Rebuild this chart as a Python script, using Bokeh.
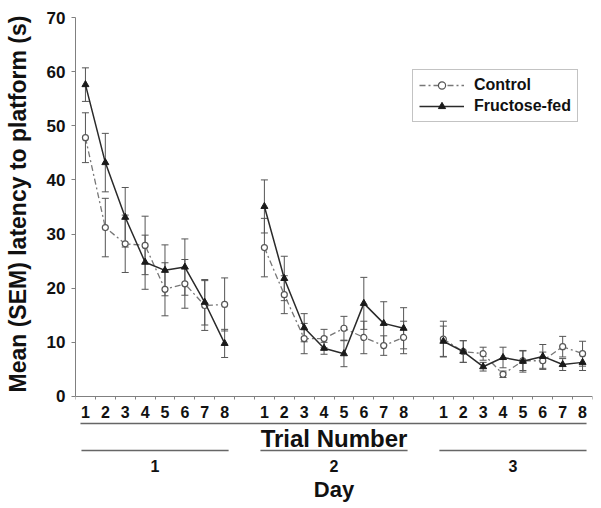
from bokeh.plotting import figure
from bokeh.models import (ColumnDataSource, Range1d, LinearAxis, FixedTicker, Whisker,
                          TeeHead, Legend, LegendItem, Title)
from bokeh.core.properties import value
from bokeh.embed import file_html
from bokeh.resources import INLINE

# ---------------- data ----------------
days = ["1", "2", "3"]
trials = [1, 2, 3, 4, 5, 6, 7, 8]

control_mean = [47.8, 31.2, 28.2, 27.9, 19.8, 20.8, 16.8, 17.0,
                27.5, 18.8, 10.7, 10.7, 12.6, 10.9, 9.4, 10.9,
                10.6, 8.3, 7.9, 4.1, 6.6, 6.6, 9.2, 7.9]
control_sem = [4.6, 5.4, 5.3, 5.4, 4.9, 4.5, 4.6, 4.9,
               5.4, 3.5, 2.8, 1.7, 2.2, 3.0, 1.8, 3.0,
               3.3, 2.0, 1.2, 0.6, 1.8, 1.6, 1.9, 2.3]
fructose_mean = [57.6, 43.2, 33.1, 24.8, 23.3, 23.9, 17.4, 9.8,
                 35.1, 21.8, 12.7, 8.9, 7.9, 17.2, 13.5, 12.6,
                 10.2, 8.3, 5.5, 7.2, 6.5, 7.4, 5.9, 6.3]
fructose_sem = [3.1, 5.4, 5.5, 5.0, 4.7, 5.2, 4.2, 2.6,
                4.9, 4.1, 2.6, 1.1, 2.4, 4.8, 4.0, 3.8,
                2.8, 2.0, 0.8, 1.9, 2.0, 2.2, 1.1, 1.5]

y_ticks = [0, 10, 20, 30, 40, 50, 60, 70]

# ---------------- layout / style ----------------
FONT = "Liberation Sans"
W, H = 598, 506
FRAME_L, FRAME_R, FRAME_T = 75, 592, 17
PX_PER_UNIT = 5.414          # vertical pixels per second
Y_MAX = 70
AXIS_Y = FRAME_T + Y_MAX * PX_PER_UNIT
Y_MIN = -(H - AXIS_Y) / PX_PER_UNIT

slot = len(trials) + 1       # one empty slot between days
xs = [d * slot + t for d in range(len(days)) for t in trials]
x_lo, x_hi = 0.5, xs[-1] + 0.5


def py(px_below_axis):
    """screen pixels below the x axis -> data units"""
    return -px_below_axis / PX_PER_UNIT


p = figure(width=W, height=H, output_backend="svg", toolbar_location=None,
           x_range=Range1d(x_lo, x_hi), y_range=Range1d(Y_MIN, Y_MAX),
           x_axis_type=None, min_border_left=FRAME_L, min_border_right=W - FRAME_R,
           min_border_top=FRAME_T, min_border_bottom=0)
p.grid.visible = False
p.outline_line_color = None
p.background_fill_color = "white"

# y axis
ya = p.yaxis[0]
ya.ticker = FixedTicker(ticks=y_ticks)
ya.bounds = (0, Y_MAX)
ya.axis_line_color = "#808080"
ya.major_tick_line_color = "#808080"
ya.major_tick_out = 4
ya.major_tick_in = 0
ya.minor_tick_line_color = None
ya.major_label_text_font = FONT
ya.major_label_text_font_style = "bold"
ya.major_label_text_font_size = "17px"
ya.major_label_text_color = "#111111"
ya.major_label_standoff = 6
# tiny blank axis label: only adds a gap between tick labels and the side title
ya.axis_label = " "
ya.axis_label_text_font_size = "1px"
ya.axis_label_standoff = 7

# y axis title: a side title, anchored at its start (bottom) like the original
p.add_layout(Title(text="Mean (SEM) latency to platform (s)", align="left",
                   offset=H - 392, text_font=FONT, text_font_style="bold",
                   text_font_size="23px", text_color="#111111", standoff=4), "left")

# x axis (trial numbers) fixed at y = 0
boundaries = [x_lo + i for i in range(int(x_hi - x_lo) + 1)]
xa = LinearAxis(fixed_location=0,
                ticker=FixedTicker(ticks=xs, minor_ticks=boundaries),
                major_label_overrides={x: str(t) for x, t in zip(xs, trials * len(days))})
xa.axis_line_color = "#808080"
xa.major_tick_line_color = None
xa.major_tick_out = 0
xa.major_tick_in = 0
xa.minor_tick_line_color = "#808080"
xa.minor_tick_out = 3
xa.minor_tick_in = 0
xa.major_label_text_font = FONT
xa.major_label_text_font_style = "bold"
xa.major_label_text_font_size = "16px"
xa.major_label_text_color = "#111111"
xa.major_label_standoff = 7
p.add_layout(xa, "below")

# ---------------- series ----------------
CTRL_C = "#777777"
FRU_C = "#2a2a2a"
ERR_C = "#555555"

legend_items = []
n = len(trials)
for name, mean, sem, col in (("Control", control_mean, control_sem, CTRL_C),
                             ("Fructose-fed", fructose_mean, fructose_sem, FRU_C)):
    src = ColumnDataSource(dict(x=xs, y=mean,
                                lo=[m - s for m, s in zip(mean, sem)],
                                hi=[m + s for m, s in zip(mean, sem)]))
    p.add_layout(Whisker(source=src, base="x", upper="hi", lower="lo",
                         line_color=ERR_C, line_width=1,
                         upper_head=TeeHead(size=7, line_color=ERR_C, line_width=1),
                         lower_head=TeeHead(size=7, line_color=ERR_C, line_width=1)))
    rends = []
    for d in range(len(days)):
        seg = ColumnDataSource(dict(x=xs[d * n:(d + 1) * n], y=mean[d * n:(d + 1) * n]))
        if name == "Control":
            r = p.line("x", "y", source=seg, line_color=col, line_width=1.3, line_dash="6 3 2 3")
        else:
            r = p.line("x", "y", source=seg, line_color=col, line_width=1.5)
        rends.append(r)
    if name == "Control":
        m = p.scatter(xs, mean, marker="circle", size=6, fill_color="white",
                      line_color="#555555", line_width=1.2)
    else:
        m = p.scatter(xs, mean, marker="triangle", size=7, fill_color="#1a1a1a",
                      line_color="#1a1a1a")
    legend_items.append(LegendItem(label=name, renderers=[rends[0], m]))

legend = Legend(items=legend_items, location=(412 - FRAME_L, H - 122))
legend.label_text_font = FONT
legend.label_text_font_style = "bold"
legend.label_text_font_size = "16px"
legend.label_text_color = "#111111"
legend.glyph_width = 45
legend.glyph_height = 18
legend.label_height = 18
legend.label_standoff = 10
legend.spacing = 3
legend.padding = 6
legend.margin = 0
legend.border_line_color = "#888888"
legend.border_line_width = 1.5
legend.background_fill_alpha = 1
p.add_layout(legend)

# ---------------- decorations below the axis ----------------
DEC_C = "#666666"
firsts = [xs[d * n] for d in range(len(days))]
lasts = [xs[d * n + n - 1] for d in range(len(days))]
centers = [(a + b) / 2 for a, b in zip(firsts, lasts)]

p.segment(x0=[firsts[0] - 0.25], x1=[lasts[-1] + 0.2], y0=[py(27)], y1=[py(27)],
          line_color=DEC_C, line_width=1.6)
p.segment(x0=[f - 0.2 for f in firsts], x1=[l + 0.2 for l in lasts],
          y0=[py(54)] * 3, y1=[py(54)] * 3, line_color=DEC_C, line_width=1.6)
p.text(x=[centers[1]], y=[py(42)], text=["Trial Number"], text_font=value(FONT),
       text_font_style="bold", text_font_size="24px", text_align="center",
       text_baseline="middle", text_color="#111111")
p.text(x=centers, y=[py(70)] * 3, text=days, text_font=value(FONT),
       text_font_style="bold", text_font_size="16px", text_align="center",
       text_baseline="middle", text_color="#111111")
p.text(x=[centers[1]], y=[py(93)], text=["Day"], text_font=value(FONT),
       text_font_style="bold", text_font_size="22px", text_align="center",
       text_baseline="middle", text_color="#111111")

open("out.html", "w").write(file_html(p, INLINE))
